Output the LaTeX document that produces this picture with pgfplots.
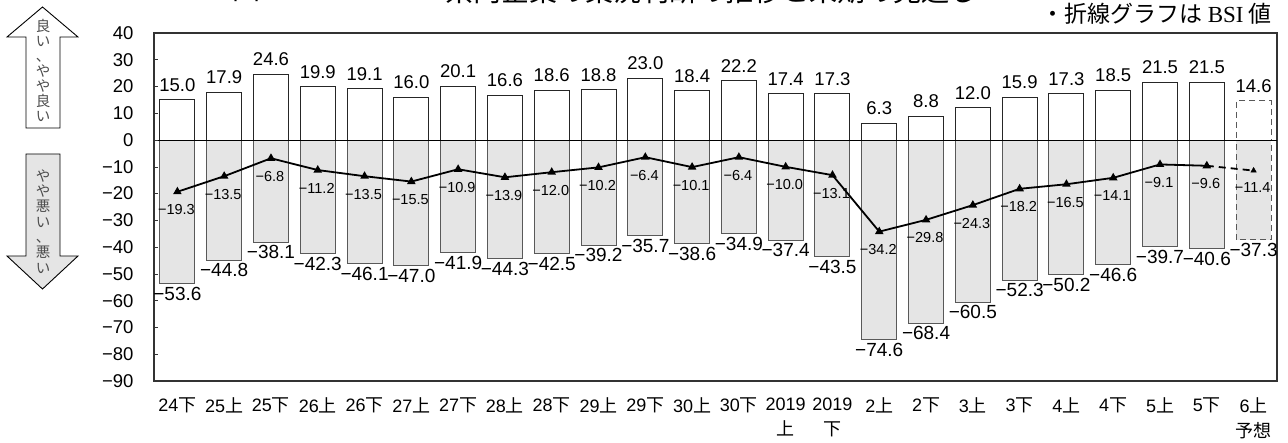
\documentclass[border=0pt]{standalone}
\usepackage{fontspec}
\setmainfont{Liberation Sans}
\newfontfamily\jp{Noto Sans CJK JP}
\usepackage{pgfplots}
\pgfplotsset{compat=1.18}
\usepackage{pgfplotstable}

\pgfplotstableread{
x pos poslbl neg neglbl bsi bsilbl
0 15.0 15.0 -53.6 −53.6 -19.3 −19.3
1 17.9 17.9 -44.8 −44.8 -13.5 −13.5
2 24.6 24.6 -38.1 −38.1 -6.8 −6.8
3 19.9 19.9 -42.3 −42.3 -11.2 −11.2
4 19.1 19.1 -46.1 −46.1 -13.5 −13.5
5 16.0 16.0 -47.0 −47.0 -15.5 −15.5
6 20.1 20.1 -41.9 −41.9 -10.9 −10.9
7 16.6 16.6 -44.3 −44.3 -13.9 −13.9
8 18.6 18.6 -42.5 −42.5 -12.0 −12.0
9 18.8 18.8 -39.2 −39.2 -10.2 −10.2
10 23.0 23.0 -35.7 −35.7 -6.4 −6.4
11 18.4 18.4 -38.6 −38.6 -10.1 −10.1
12 22.2 22.2 -34.9 −34.9 -6.4 −6.4
13 17.4 17.4 -37.4 −37.4 -10.0 −10.0
14 17.3 17.3 -43.5 −43.5 -13.1 −13.1
15 6.3 6.3 -74.6 −74.6 -34.2 −34.2
16 8.8 8.8 -68.4 −68.4 -29.8 −29.8
17 12.0 12.0 -60.5 −60.5 -24.3 −24.3
18 15.9 15.9 -52.3 −52.3 -18.2 −18.2
19 17.3 17.3 -50.2 −50.2 -16.5 −16.5
20 18.5 18.5 -46.6 −46.6 -14.1 −14.1
21 21.5 21.5 -39.7 −39.7 -9.1 −9.1
22 21.5 21.5 -40.6 −40.6 -9.6 −9.6
}\datatable

\pgfplotstableread{
x pos poslbl neg neglbl bsi bsilbl
23 14.6 14.6 -37.3 −37.3 -11.4 −11.4
}\fcast

\pgfplotstableread{
x bsi
22 -9.6
23 -11.4
}\dashseg

\begin{document}
\begin{tikzpicture}
\useasboundingbox (0pt,0pt) rectangle (1288pt,-443pt);

% title (cut off at top edge in the reference)
\node[anchor=base west, inner sep=0pt, font=\jp\fontsize{28}{28}\selectfont] at (232pt,0pt) {図};
\node[anchor=base west, inner sep=0pt, font=\jp\fontsize{28}{28}\selectfont] at (445pt,-1.5pt) {県内企業の業況判断の推移と来期の見通し};
\node[anchor=base east, inner sep=0pt, font=\jp\fontsize{23}{23}\selectfont] at (1272pt,-23pt) {・折線グラフは {\fontspec{Liberation Serif}BSI} 値};

% side arrows
\draw[black, line width=0.9pt, fill=white] (42.5pt,-7pt) -- (78pt,-37pt) -- (60pt,-37pt) -- (60pt,-128pt) -- (26pt,-128pt) -- (26pt,-37pt) -- (7pt,-37pt) -- cycle;
\draw[black, line width=0.9pt, fill=gray!20] (26pt,-154pt) -- (60pt,-154pt) -- (60pt,-256pt) -- (78pt,-256pt) -- (42.5pt,-289pt) -- (7pt,-256pt) -- (26pt,-256pt) -- cycle;
\node[align=center, inner sep=0pt, text=black!70, font=\jp\fontsize{14.5}{15}\selectfont] at (43pt,-70pt) {良\\い\\、\\や\\や\\良\\い};
\node[align=center, inner sep=0pt, text=black!70, font=\jp\fontsize{14.5}{15.3}\selectfont] at (43pt,-221.5pt) {や\\や\\悪\\い\\、\\悪\\い};

\begin{axis}[
  at={(154pt,-381pt)}, anchor=south west,
  scale only axis, width=1123pt, height=348pt,
  xmin=-0.5, xmax=23.5, ymin=-90, ymax=40,
  axis line style={draw=black!80, line width=1.1pt},
  ytick={-90,-80,...,40},
  yticklabels={−90,−80,−70,−60,−50,−40,−30,−20,−10,0,10,20,30,40},
  ytick pos=left, tick align=inside, major tick length=4pt,
  ytick style={draw=black!80, line width=0.6pt},
  yticklabel style={font=\fontsize{18.5}{18.5}\selectfont, xshift=-17pt},
  xtick={0,...,23},
  xtick style={draw=none},
  xticklabels={24\jp{下},25\jp{上},25\jp{下},26\jp{上},26\jp{下},27\jp{上},27\jp{下},28\jp{上},28\jp{下},29\jp{上},29\jp{下},30\jp{上},30\jp{下},{2019\\\jp{上}},{2019\\\jp{下}},2\jp{上},2\jp{下},3\jp{上},3\jp{下},4\jp{上},4\jp{下},5\jp{上},5\jp{下},{6\jp{上}\\\jp{予想}}},
  xticklabel style={align=center, font=\fontsize{18}{25}\selectfont, yshift=-13pt},
  extra y ticks={0}, extra y tick labels={},
  extra y tick style={grid=major, major grid style={black, line width=0.8pt}, tick style={draw=none}},
  axis on top,
  clip=false,
]
% negative bars
\addplot[ybar, bar width=35pt, bar shift=0pt, draw=black!65, line width=1pt, fill=gray!20,
  nodes near coords, point meta=explicit symbolic,
  every node near coord/.append style={anchor=north, font=\fontsize{19}{19}\selectfont, text=black, inner sep=2pt, yshift=-1pt}]
  table[x=x, y=neg, meta=neglbl]{\datatable};
% positive bars
\addplot[ybar, bar width=35pt, bar shift=0pt, draw=black!85, line width=1pt, fill=white,
  nodes near coords, point meta=explicit symbolic,
  every node near coord/.append style={anchor=south, font=\fontsize{18.5}{18.5}\selectfont, text=black, inner sep=3pt, yshift=5pt}]
  table[x=x, y=pos, meta=poslbl]{\datatable};
% forecast bars
\addplot[ybar, bar width=35pt, bar shift=0pt, draw=black!65, line width=1pt, dash pattern=on 6pt off 4pt, fill=gray!20,
  nodes near coords, point meta=explicit symbolic,
  every node near coord/.append style={anchor=north, font=\fontsize{19}{19}\selectfont, text=black, inner sep=2pt, yshift=-1pt, solid}]
  table[x=x, y=neg, meta=neglbl]{\fcast};
\addplot[ybar, bar width=35pt, bar shift=0pt, draw=black!65, line width=1pt, dash pattern=on 6pt off 4pt, fill=white,
  nodes near coords, point meta=explicit symbolic,
  every node near coord/.append style={anchor=south, font=\fontsize{18.5}{18.5}\selectfont, text=black, inner sep=3pt, yshift=5pt, solid}]
  table[x=x, y=pos, meta=poslbl]{\fcast};
% BSI line
\addplot[black, line width=1.8pt, dash pattern=on 7pt off 5pt, forget plot] table[x=x, y=bsi]{\dashseg};
\addplot[black, line width=1.8pt, mark=triangle*, mark size=3.2pt, mark options={solid},
  nodes near coords, point meta=explicit symbolic,
  every node near coord/.append style={anchor=north, yshift=-11pt, xshift=-1pt, font=\fontsize{14.5}{14.5}\selectfont, text=black, inner sep=1pt}]
  table[x=x, y=bsi, meta=bsilbl]{\datatable};
\addplot[only marks, black, mark=triangle*, mark size=3.2pt,
  nodes near coords, point meta=explicit symbolic,
  every node near coord/.append style={anchor=north, yshift=-11pt, xshift=-1pt, font=\fontsize{14.5}{14.5}\selectfont, text=black, inner sep=1pt}]
  table[x=x, y=bsi, meta=bsilbl]{\fcast};
\end{axis}
\end{tikzpicture}
\end{document}
